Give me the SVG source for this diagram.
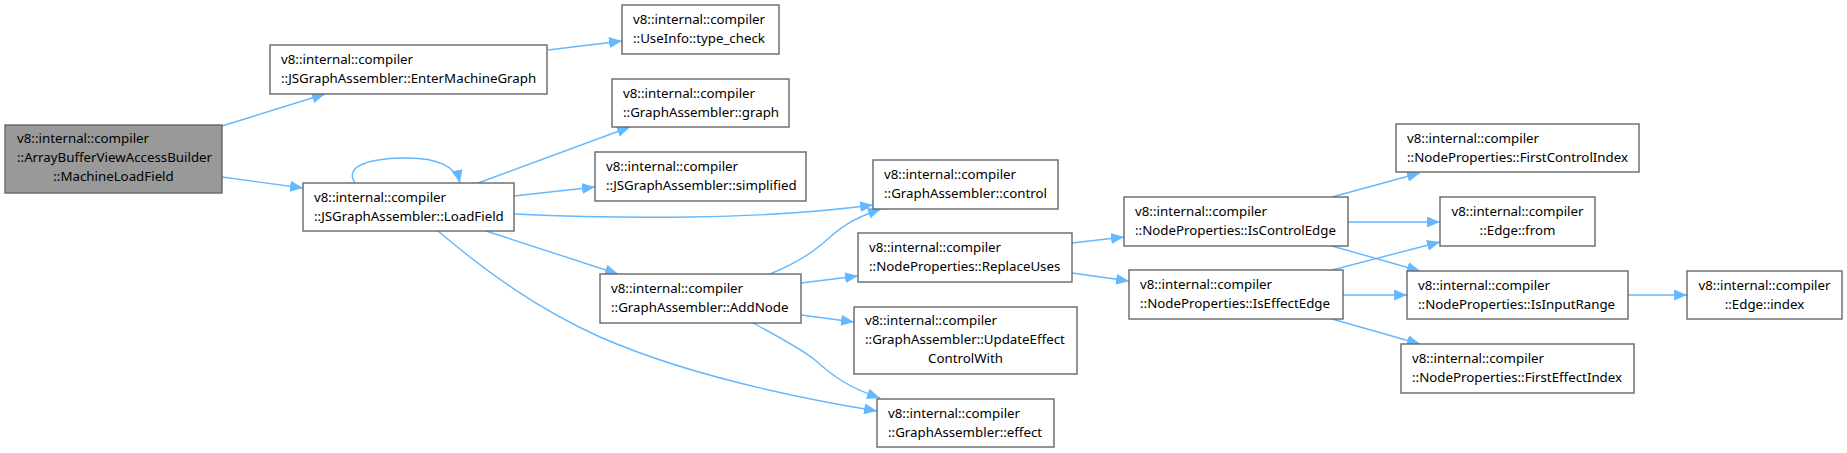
<svg xmlns="http://www.w3.org/2000/svg" width="1847" height="453" viewBox="0 0 1847 453">
<style>
.n rect{fill:#ffffff;stroke:#666666;stroke-width:1.4}
.n.root rect{fill:#999999}
.n text{font-family:"Noto Sans","DejaVu Sans",sans-serif;font-size:13.3px;fill:#000000}
.n text.c{text-anchor:middle}
.e path{fill:none;stroke:#63b8ff;stroke-width:1.4}
</style>
<defs>
<marker id="ah" markerUnits="userSpaceOnUse" markerWidth="14" markerHeight="11" refX="13" refY="5.5" orient="auto">
<path d="M0,0 L13,5.5 L0,11 z" fill="#63b8ff"/>
</marker>
</defs>
<rect width="1847" height="453" fill="#ffffff"/>
<g id="connectors" class="e">
<path marker-end="url(#ah)" d="M222,126 L325,94"/>
<path marker-end="url(#ah)" d="M222,177 L303,188"/>
<path marker-end="url(#ah)" d="M548,50 L622,41"/>
<path marker-end="url(#ah)" d="M355,183 C343,165 372,158 408,158 C436,158 456,166 460,183"/>
<path marker-end="url(#ah)" d="M478,183 L630,127"/>
<path marker-end="url(#ah)" d="M514,196 L595,187"/>
<path marker-end="url(#ah)" d="M514,214 C620,219 760,220 873,205"/>
<path marker-end="url(#ah)" d="M486,231 L618,274"/>
<path marker-end="url(#ah)" d="M438,231 C490,275 540,310 600,337 C680,372 780,395 877,411"/>
<path marker-end="url(#ah)" d="M770,274 C792,265 808,256 822,244 C838,230 848,220 881,209"/>
<path marker-end="url(#ah)" d="M801,283 L858,276"/>
<path marker-end="url(#ah)" d="M801,315 L854,322"/>
<path marker-end="url(#ah)" d="M753,323 C775,335 800,348 815,360 C835,378 850,388 880,398"/>
<path marker-end="url(#ah)" d="M1072,243 L1124,237"/>
<path marker-end="url(#ah)" d="M1072,273 L1129,281"/>
<path marker-end="url(#ah)" d="M1332,197 L1420,173"/>
<path marker-end="url(#ah)" d="M1348,222 L1440,222"/>
<path marker-end="url(#ah)" d="M1332,246 L1420,271"/>
<path marker-end="url(#ah)" d="M1332,270 L1440,242"/>
<path marker-end="url(#ah)" d="M1343,295 L1407,295"/>
<path marker-end="url(#ah)" d="M1332,319 L1420,344"/>
<path marker-end="url(#ah)" d="M1628,295 L1687,295"/>
</g>
<g id="MachineLoadField" class="n root">
<rect x="5" y="125" width="217" height="68"/>
<text x="17" y="143">v8::internal::compiler</text>
<text x="17" y="162">::ArrayBufferViewAccessBuilder</text>
<text class="c" x="113.5" y="181">::MachineLoadField</text>
</g>
<g id="EnterMachineGraph" class="n">
<rect x="270" y="45" width="277" height="49"/>
<text x="281" y="63.5">v8::internal::compiler</text>
<text x="281" y="82.5">::JSGraphAssembler::EnterMachineGraph</text>
</g>
<g id="LoadField" class="n">
<rect x="303" y="183" width="211" height="48"/>
<text x="314" y="201.5">v8::internal::compiler</text>
<text x="314" y="220.5">::JSGraphAssembler::LoadField</text>
</g>
<g id="UseInfoTypeCheck" class="n">
<rect x="622" y="5" width="157" height="49"/>
<text x="633" y="23.5">v8::internal::compiler</text>
<text x="633" y="42.5">::UseInfo::type_check</text>
</g>
<g id="GraphAssemblerGraph" class="n">
<rect x="612" y="79" width="177" height="48"/>
<text x="623" y="97.5">v8::internal::compiler</text>
<text x="623" y="116.5">::GraphAssembler::graph</text>
</g>
<g id="Simplified" class="n">
<rect x="595" y="152" width="211" height="49"/>
<text x="606" y="170.5">v8::internal::compiler</text>
<text x="606" y="189.5">::JSGraphAssembler::simplified</text>
</g>
<g id="Control" class="n">
<rect x="873" y="160" width="185" height="49"/>
<text x="884" y="178.5">v8::internal::compiler</text>
<text x="884" y="197.5">::GraphAssembler::control</text>
</g>
<g id="ReplaceUses" class="n">
<rect x="858" y="233" width="214" height="49"/>
<text x="869" y="251.5">v8::internal::compiler</text>
<text x="869" y="270.5">::NodeProperties::ReplaceUses</text>
</g>
<g id="AddNode" class="n">
<rect x="600" y="274" width="201" height="49"/>
<text x="611" y="292.5">v8::internal::compiler</text>
<text x="611" y="311.5">::GraphAssembler::AddNode</text>
</g>
<g id="UpdateEffectControlWith" class="n">
<rect x="854" y="307" width="223" height="67"/>
<text x="865" y="324.5">v8::internal::compiler</text>
<text x="865" y="343.5">::GraphAssembler::UpdateEffect</text>
<text class="c" x="965.5" y="362.5">ControlWith</text>
</g>
<g id="Effect" class="n">
<rect x="877" y="399" width="177" height="48"/>
<text x="888" y="417.5">v8::internal::compiler</text>
<text x="888" y="436.5">::GraphAssembler::effect</text>
</g>
<g id="IsControlEdge" class="n">
<rect x="1124" y="197" width="224" height="49"/>
<text x="1135" y="215.5">v8::internal::compiler</text>
<text x="1135" y="234.5">::NodeProperties::IsControlEdge</text>
</g>
<g id="IsEffectEdge" class="n">
<rect x="1129" y="270" width="214" height="49"/>
<text x="1140" y="288.5">v8::internal::compiler</text>
<text x="1140" y="307.5">::NodeProperties::IsEffectEdge</text>
</g>
<g id="FirstControlIndex" class="n">
<rect x="1396" y="124" width="243" height="48"/>
<text x="1407" y="142.5">v8::internal::compiler</text>
<text x="1407" y="161.5">::NodeProperties::FirstControlIndex</text>
</g>
<g id="EdgeFrom" class="n">
<rect x="1440" y="197" width="155" height="49"/>
<text class="c" x="1517.5" y="215.5">v8::internal::compiler</text>
<text class="c" x="1517.5" y="234.5">::Edge::from</text>
</g>
<g id="IsInputRange" class="n">
<rect x="1407" y="271" width="221" height="48"/>
<text x="1418" y="289.5">v8::internal::compiler</text>
<text x="1418" y="308.5">::NodeProperties::IsInputRange</text>
</g>
<g id="EdgeIndex" class="n">
<rect x="1687" y="271" width="155" height="48"/>
<text class="c" x="1764.5" y="289.5">v8::internal::compiler</text>
<text class="c" x="1764.5" y="308.5">::Edge::index</text>
</g>
<g id="FirstEffectIndex" class="n">
<rect x="1401" y="344" width="233" height="49"/>
<text x="1412" y="362.5">v8::internal::compiler</text>
<text x="1412" y="381.5">::NodeProperties::FirstEffectIndex</text>
</g>
</svg>
